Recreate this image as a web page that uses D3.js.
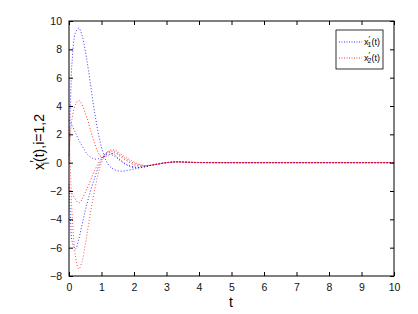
<!DOCTYPE html>
<html><head><meta charset="utf-8">
<script src="https://cdn.jsdelivr.net/npm/d3@7"></script>
<style>body{margin:0;background:#fff;} text{font-family:"Liberation Sans",Arial,sans-serif;}</style>
</head><body><svg id="c" width="418" height="314"></svg>
<script>
const tVals = [0,0.05,0.1,0.2,0.3,0.4,0.5,0.6,0.8,1.0,1.2,1.4,1.6,1.8,2.0,2.3,2.6,3.0,3.3,3.6,4,5,6,7,8,9,10];
const x1a = [3,2.8,2.6,2.1,1.6,1.2,0.8,0.5,0.25,0.35,0.6,0.45,0.1,-0.2,-0.35,-0.3,-0.15,0,0.06,0.04,0.01,0,0,0,0,0,0];
const x1b = [0,4.5,7.3,9.2,9.5,9.0,7.9,6.5,3.4,1.1,-0.1,-0.5,-0.6,-0.55,-0.45,-0.3,-0.15,0,0.06,0.04,0.01,0,0,0,0,0,0];
const x1c = [-1.5,-4.2,-5.6,-6.1,-5.4,-4.4,-3.4,-2.5,-1.0,0.2,0.75,0.55,0.15,-0.15,-0.3,-0.3,-0.15,0,0.06,0.04,0.01,0,0,0,0,0,0];
const x2a = [0.5,2.2,3.2,4.1,4.4,4.1,3.5,2.8,1.3,0.4,0.5,0.7,0.4,0.1,-0.15,-0.25,-0.15,0,0.05,0.03,0.01,0,0,0,0,0,0];
const x2b = [-1.8,-2.0,-2.2,-2.6,-2.85,-2.6,-2.1,-1.6,-0.5,0.3,0.75,0.8,0.5,0.2,-0.05,-0.2,-0.15,0,0.05,0.03,0.01,0,0,0,0,0,0];
const x2c = [2.5,-1.0,-3.8,-6.6,-7.5,-7.0,-5.8,-4.4,-1.8,0.0,0.8,0.9,0.6,0.3,0.05,-0.2,-0.15,0,0.05,0.03,0.01,0,0,0,0,0,0];
const xTicks = [0,1,2,3,4,5,6,7,8,9,10];
const yTicks = [-8,-6,-4,-2,0,2,4,6,8,10];
const seriesList = [
  {vals:x1a, color:"#0000ff", op:0.7},
  {vals:x1b, color:"#0000ff", op:0.8},
  {vals:x1c, color:"#0000ff", op:0.8},
  {vals:x2a, color:"#ff0000", op:0.8},
  {vals:x2b, color:"#ff0000", op:0.8},
  {vals:x2c, color:"#ff0000", op:0.7}
];
const L=69, R=394, T=21, B=276;
const svg = d3.select("#c");
const x = d3.scaleLinear().domain([0,10]).range([L,R]);
const y = d3.scaleLinear().domain([-8,10]).range([B,T]);

const line = d3.line().x((d,i)=>x(tVals[i])).y(d=>y(d)).curve(d3.curveCatmullRom.alpha(0.5));
seriesList.forEach(s=>{
  svg.append("path").attr("d", line(s.vals)).attr("fill","none")
    .attr("stroke", s.color).attr("stroke-opacity", s.op).attr("stroke-width",1)
    .attr("stroke-dasharray","1,2");
});

svg.append("rect").attr("x",L).attr("y",T).attr("width",R-L).attr("height",B-T)
  .attr("fill","none").attr("stroke","#000").attr("stroke-width",1);
const gB = svg.append("g").attr("transform",`translate(0,${B})`).call(d3.axisBottom(x).tickValues(xTicks).tickSizeInner(-4).tickSizeOuter(0).tickPadding(8));
const gT = svg.append("g").attr("transform",`translate(0,${T})`).call(d3.axisTop(x).tickValues(xTicks).tickSizeInner(-4).tickSizeOuter(0).tickFormat(""));
const gL = svg.append("g").attr("transform",`translate(${L},0)`).call(d3.axisLeft(y).tickValues(yTicks).tickSizeInner(-4).tickSizeOuter(0).tickPadding(7));
const gR = svg.append("g").attr("transform",`translate(${R},0)`).call(d3.axisRight(y).tickValues(yTicks).tickSizeInner(-4).tickSizeOuter(0).tickFormat(""));
[gB,gT,gL,gR].forEach(g=>{
  g.select(".domain").remove();
  g.selectAll("line").attr("stroke","#000");
  g.selectAll("text").attr("font-size",10.5).attr("fill","#111").attr("font-family","Liberation Sans, Arial, sans-serif");
});

svg.append("text").attr("x",231).attr("y",307).attr("text-anchor","middle").attr("font-size",14).text("t");
const yl = svg.append("text").attr("transform","translate(44,142) rotate(-90)").attr("text-anchor","middle").attr("font-size",14);
yl.append("tspan").text("x");
yl.append("tspan").attr("dy",-5).attr("dx",0.5).attr("font-size",12).text("′");
yl.append("tspan").attr("dy",10).attr("dx",-4).attr("font-size",10).text("i");
yl.append("tspan").attr("dy",-5).text("(t),i=1,2");

const lg = svg.append("g");
lg.append("rect").attr("x",336).attr("y",30).attr("width",47).attr("height",39).attr("fill","#fff").attr("stroke","#000").attr("stroke-width",0.8);
const legItems = [{c:"#0000ff", sub:"1"},{c:"#ff0000", sub:"2"}];
legItems.forEach((d,i)=>{
  const yy = 42 + i*16;
  lg.append("line").attr("x1",339).attr("x2",362).attr("y1",yy).attr("y2",yy).attr("stroke",d.c).attr("stroke-dasharray","1,1.5").attr("stroke-opacity",0.8);
  const t = lg.append("text").attr("x",364).attr("y",yy+3).attr("font-size",9);
  t.append("tspan").text("x");
  t.append("tspan").attr("dy",-4).attr("font-size",8).text("′");
  t.append("tspan").attr("dy",6).attr("dx",-2.5).attr("font-size",7).text(d.sub);
  t.append("tspan").attr("dy",-2).text("(t)");
});
</script></body></html>
